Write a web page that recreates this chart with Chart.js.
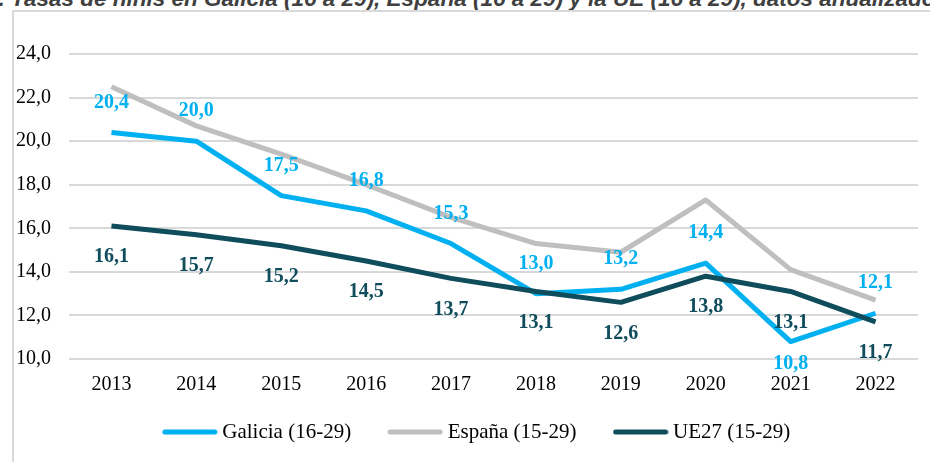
<!DOCTYPE html>
<html>
<head>
<meta charset="utf-8">
<script src="https://cdn.jsdelivr.net/npm/chart.js@4.4.1/dist/chart.umd.min.js"></script>
<style>
  html, body { margin: 0; padding: 0; background: #fff; }
  #wrap { position: relative; width: 930px; height: 462px; overflow: hidden; }
  #title {
    position: absolute; left: -14px; top: -12px; white-space: nowrap;
    font: italic bold 22.5px "Liberation Sans", Arial, sans-serif; color: #404040;
    line-height: 22px;
  }
  #box {
    position: absolute; left: 12px; top: 10px; width: 940px; height: 470px;
    border: 2px solid #d9d9d9; box-sizing: border-box;
  }
  #chartBox { position: absolute; left: 0; top: 0; width: 930px; height: 462px; }
</style>
</head>
<body>
<div id="wrap">
  <div id="title">1. Tasas de ninis en Galicia (16 a 29), España (16 a 29) y la UE (16 a 29), datos anualizados</div>
  <div id="box"></div>
  <div id="chartBox"><canvas id="ninis" width="930" height="462"></canvas></div>
</div>
<script>
let years = ["2013", "2014", "2015", "2016", "2017", "2018", "2019", "2020", "2021", "2022"];
let galicia = [20.4, 20.0, 17.5, 16.8, 15.3, 13.0, 13.2, 14.4, 10.8, 12.1];
let espana = [22.5, 20.7, 19.4, 18.0, 16.5, 15.3, 14.9, 17.3, 14.1, 12.7];
let ue27 = [16.1, 15.7, 15.2, 14.5, 13.7, 13.1, 12.6, 13.8, 13.1, 11.7];
let yTicks = [10, 12, 14, 16, 18, 20, 22, 24];

const serif = "'Liberation Serif', 'Times New Roman', serif";

// legend swatch: a short thick line with round ends
function swatch(color) {
    const c = document.createElement('canvas');
    c.width = 56;
    c.height = 6;
    const g = c.getContext('2d');
    g.strokeStyle = color;
    g.lineWidth = 5;
    g.lineCap = 'round';
    g.beginPath();
    g.moveTo(3, 3);
    g.lineTo(53, 3);
    g.stroke();
    return c;
}

// draws the value labels next to each point (above or below)
const valueLabels = {
    id: 'valueLabels',
    afterDatasetsDraw(chart) {
        const ctx = chart.ctx;
        chart.data.datasets.forEach((ds, i) => {
            if (!ds.valueLabel) return;
            const meta = chart.getDatasetMeta(i);
            ctx.save();
            ctx.font = "bold 20px " + serif;
            ctx.fillStyle = ds.valueLabel.color;
            ctx.textAlign = 'center';
            ctx.textBaseline = 'middle';
            meta.data.forEach((pt, j) => {
                let below = ds.valueLabel.below;
                if (ds.valueLabel.flip && ds.valueLabel.flip.includes(years[j])) below = !below;
                let dy = below ? ds.valueLabel.down : -ds.valueLabel.up;
                ctx.fillText(ds.data[j].toFixed(1).replace('.', ','), pt.x, pt.y + dy);
            });
            ctx.restore();
        });
    }
};

// legend sits a little right of centre and higher than chart.js puts it
const legendShift = {
    id: 'legendShift',
    afterLayout(chart) {
        const lg = chart.legend;
        const h = lg.bottom - lg.top;
        lg.left += 14;
        lg.right += 14;
        lg.top = 379.5;
        lg.bottom = 379.5 + h;
    }
};

const ninisPlot = new Chart("ninis", {
    type: 'line',
    data: {
        labels: years,
        datasets: [{
            label: "Galicia (16-29)",
            data: galicia,
            borderColor: '#00b0f0',
            backgroundColor: '#00b0f0',
            borderWidth: 5,
            radius: 0,
            order: 1,
            valueLabel: { color: '#00b0f0', below: false, up: 30, down: 22, flip: ["2021"] }
        },
        {
            label: "España (15-29)",
            data: espana,
            borderColor: '#bfbfbf',
            backgroundColor: '#bfbfbf',
            borderWidth: 5,
            radius: 0,
            order: 2
        },
        {
            label: "UE27 (15-29)",
            data: ue27,
            borderColor: '#0f4c5c',
            backgroundColor: '#0f4c5c',
            borderWidth: 5,
            radius: 0,
            order: 0,
            valueLabel: { color: '#0f4c5c', below: true, up: 30, down: 31 }
        }]
    },
    options: {
        responsive: false,
        animation: false,
        layout: {
            padding: { left: 12, right: 12, top: 54, bottom: -11 }
        },
        elements: {
            line: { tension: 0, borderJoinStyle: 'round', borderCapStyle: 'butt' }
        },
        scales: {
            x: {
                offset: true,
                grid: { display: false },
                border: { display: false },
                ticks: { color: '#000', padding: 6, font: { family: serif, size: 20 } },
                afterFit: (scale) => { scale.height = 41; }
            },
            y: {
                min: 10,
                max: 24,
                afterBuildTicks: (scale) => { scale.ticks = yTicks.map(v => ({ value: v })); },
                grid: { color: '#d9d9d9', lineWidth: 2, drawTicks: false },
                border: { display: false },
                ticks: {
                    color: '#000',
                    padding: 18,
                    font: { family: serif, size: 20 },
                    callback: (v) => v.toFixed(1).replace('.', ',')
                },
                afterFit: (scale) => { scale.width = 57; }
            }
        },
        plugins: {
            tooltip: { enabled: false },
            legend: {
                display: true,
                position: 'bottom',
                labels: {
                    color: '#000',
                    usePointStyle: true,
                    pointStyleWidth: 44,
                    boxHeight: 6,
                    padding: 42,
                    font: { family: serif, size: 21 },
                    sort: (a, b) => a.datasetIndex - b.datasetIndex,
                    generateLabels: (chart) => Chart.defaults.plugins.legend.labels.generateLabels(chart)
                        .map(item => ({ ...item, pointStyle: swatch(item.strokeStyle) }))
                }
            }
        }
    },
    plugins: [valueLabels, legendShift]
});
</script>
</body>
</html>
